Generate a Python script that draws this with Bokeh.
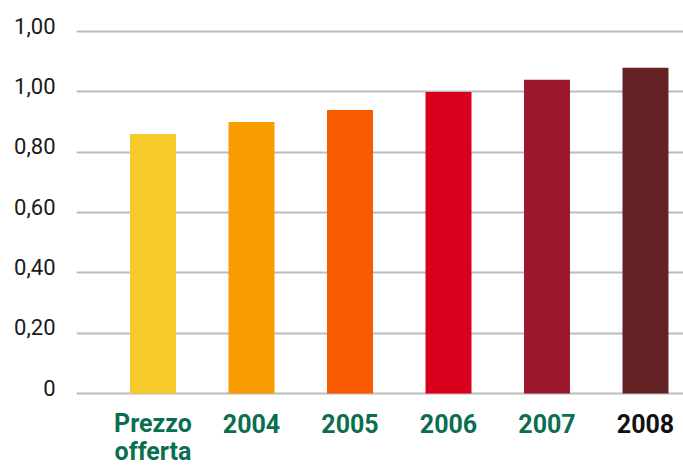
from bokeh.plotting import figure
from bokeh.models import ColumnDataSource, FixedTicker, Range1d, LinearAxis
from bokeh.core.properties import value
from bokeh.embed import file_html
from bokeh.resources import INLINE

categories = ["Prezzo\nofferta", "2004", "2005", "2006", "2007", "2008"]
values = [0.86, 0.90, 0.94, 1.00, 1.04, 1.08]
bar_colors = ["#F6CA2A", "#F99D02", "#F85A00", "#D9001E", "#9B192E", "#652224"]
label_colors = ["#0B6E50", "#0B6E50", "#0B6E50", "#0B6E50", "#0B6E50", "#111111"]
y_ticks = [0, 0.2, 0.4, 0.6, 0.8, 1.0, 1.2]
y_tick_labels = ["0", "0,20", "0,40", "0,60", "0,80", "1,00", "1,00"]

xs = list(range(len(categories)))
line1 = [c.split("\n")[0] for c in categories]
line2 = [c.split("\n")[1] if "\n" in c else "" for c in categories]

src = ColumnDataSource(dict(x=xs, top=values, color=bar_colors,
                            l1=line1, l2=line2, lc=label_colors,
                            y1=[-0.0994] * len(xs), y2=[-0.1922] * len(xs)))

Y0, Y1 = -0.242, 1.2367
LABEL_SHIFT = 0.0199  # lifts tick labels a few px above their grid lines

p = figure(width=683, height=466, output_backend="svg", toolbar_location=None,
           x_range=Range1d(-0.777, 5.386), y_range=Range1d(Y0, Y1),
           min_border_left=76, min_border_right=0, min_border_top=20,
           min_border_bottom=0)
p.outline_line_color = None
p.background_fill_color = "white"
p.border_fill_color = "white"

p.vbar(x="x", top="top", bottom=0, width=0.467, fill_color="color",
       line_color=None, source=src)

p.text(x="x", y="y1", text="l1", text_color="lc", source=src,
       text_align="center", text_baseline="alphabetic",
       text_font=value("Roboto"), text_font_style="bold",
       text_font_size="25px")
p.text(x="x", y="y2", text="l2", text_color="lc", source=src,
       text_align="center", text_baseline="alphabetic",
       text_font=value("Roboto"), text_font_style="bold",
       text_font_size="25px")

p.xaxis.visible = False
p.xgrid.visible = False
p.yaxis.visible = False

p.extra_y_ranges = {"lab": Range1d(Y0 - LABEL_SHIFT, Y1 - LABEL_SHIFT)}
ax = LinearAxis(y_range_name="lab")
ax.ticker = FixedTicker(ticks=y_ticks)
ax.major_label_overrides = {t: l for t, l in zip(y_ticks, y_tick_labels)}
ax.axis_line_color = None
ax.major_tick_line_color = None
ax.minor_tick_line_color = None
ax.major_tick_out = 0
ax.major_tick_in = 0
ax.major_label_standoff = 21
ax.major_label_text_font = "Roboto"
ax.major_label_text_font_size = "22px"
ax.major_label_text_color = "#1a1a1a"
p.add_layout(ax, "left")

p.ygrid.ticker = FixedTicker(ticks=y_ticks)
p.ygrid.grid_line_color = "#BBBBBB"
p.ygrid.grid_line_width = 2

open("out.html", "w").write(file_html(p, INLINE))
